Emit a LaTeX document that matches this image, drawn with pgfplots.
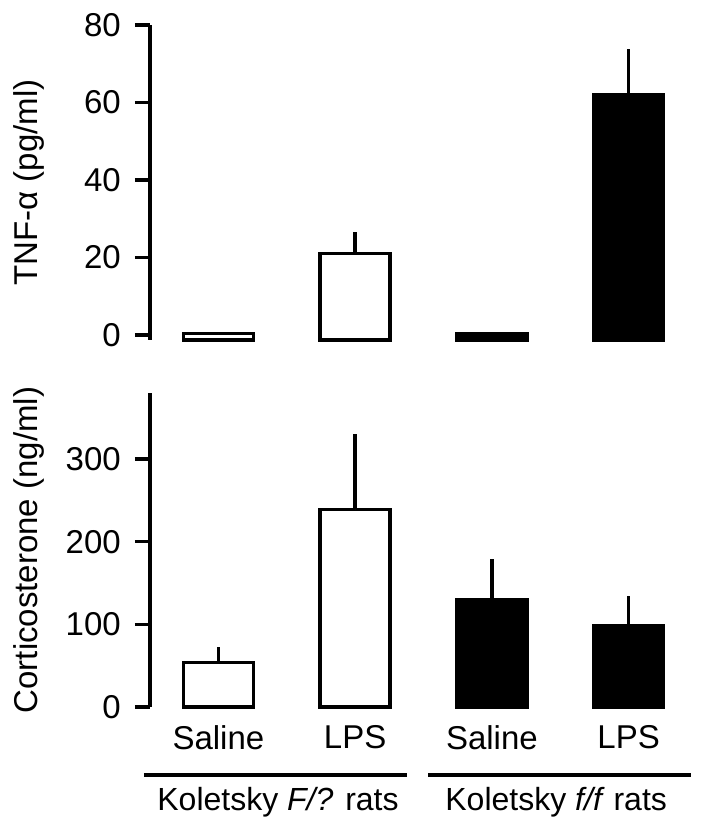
\documentclass[border=0pt]{standalone}
\usepackage{fontspec}
\setmainfont{Liberation Sans}
\usepackage{pgfplots}
\pgfplotsset{compat=1.18}

\pgfplotsset{
  ratpanel/.style={
    scale only axis, width=547pt,
    xmin=-0.5, xmax=3.5,
    axis y line*=left, axis x line*=bottom,
    axis line style={black, line width=3.4pt},
    every outer y axis line/.append style={black, line width=3.4pt},
    x axis line style={draw=none},
    every tick/.append style={black, line width=3.4pt},
    ytick style={black, line width=3.4pt},
    xtick style={draw=none},
    tick align=outside, major tick length=15pt,
    ybar, bar width=70pt,
    /pgf/number format/assume math mode=true,
    tick label style={font=\fontsize{33}{38}\selectfont},
    yticklabel style={inner sep=0pt, xshift=-14pt},
    ylabel style={font=\fontsize{33}{38}\selectfont, at={(axis description cs:-0.2505,0.5)},
      anchor=north, inner sep=0pt},
    clip=false,
  },
  ratbar/.style={draw=black, line width=3.4pt, bar shift=0pt,
    /pgfplots/error bars/y dir=plus,
    /pgfplots/error bars/y explicit,
    /pgfplots/error bars/error mark=none,
    /pgfplots/error bars/error bar style={line width=3.4pt}},
}

\begin{document}
\begin{tikzpicture}
\useasboundingbox (0,0) rectangle (704pt,836pt);

% TNF-alpha (bars start slightly below zero, as in the original)
\begin{axis}[ratpanel,
  at={(150pt,496pt)}, anchor=south west, height=315pt,
  ymin=0, ymax=81.3,
  y filter/.expression={y+1.3},
  ytick={1.3,21.3,41.3,61.3,81.3}, yticklabels={0,20,40,60,80},
  xtick=\empty,
  ylabel={TNF-α (pg/ml)}]
\addplot[ratbar, fill=white] coordinates {
  (0,0.3) +- (0,0)
  (1,21.1) +- (0,5.4)
};
\addplot[ratbar, fill=black] coordinates {
  (2,0.3) +- (0,0)
  (3,61.9) +- (0,11.8)
};
\end{axis}

% Corticosterone
\begin{axis}[ratpanel,
  at={(150pt,129pt)}, anchor=south west, height=314pt,
  ymin=0, ymax=380,
  ytick={0,100,200,300},
  xtick={0,1,2,3}, xticklabels={Saline,LPS,Saline,LPS},
  xticklabel style={inner sep=0pt, anchor=north, yshift=-3pt},
  ylabel={Corticosterone (ng/ml)}]
\addplot[ratbar, fill=white] coordinates {
  (0,53.5) +- (0,19.4)
  (1,239.2) +- (0,90.8)
};
\addplot[ratbar, fill=black] coordinates {
  (2,130.3) +- (0,48.3)
  (3,98.4) +- (0,36.2)
};
\draw[line width=3.4pt] ([yshift=-68pt]axis cs:-0.544,0) -- ([yshift=-68pt]axis cs:1.38,0);
\draw[line width=3.4pt] ([yshift=-68pt]axis cs:1.534,0) -- ([yshift=-68pt]axis cs:3.458,0);
\node[anchor=base, font=\fontsize{32}{38}\selectfont, inner sep=0pt]
  at ([yshift=-103pt]axis cs:0.436,0) {Koletsky \textit{F/?} rats};
\node[anchor=base, font=\fontsize{32}{38}\selectfont, inner sep=0pt]
  at ([yshift=-103pt]axis cs:2.47,0) {Koletsky \textit{f/f} rats};
\end{axis}
\end{tikzpicture}
\end{document}
